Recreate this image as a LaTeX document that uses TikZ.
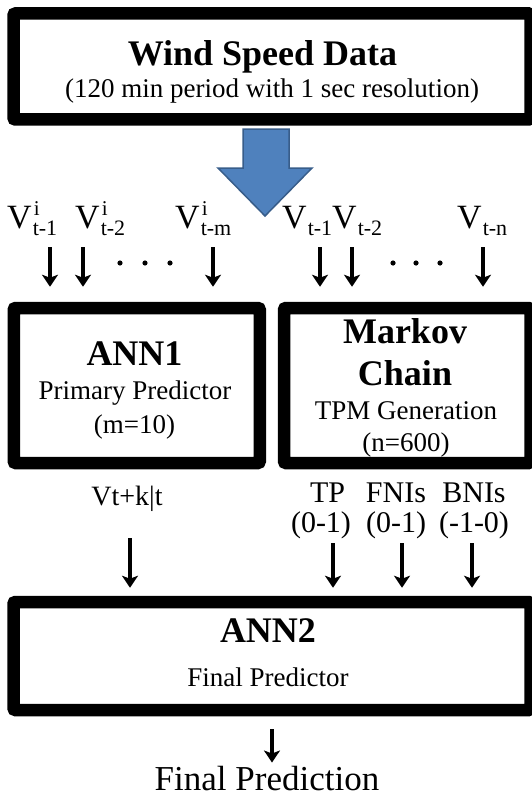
\documentclass[tikz,border=0pt]{standalone}
\usepackage{fontspec}
\setmainfont{Liberation Serif}
\usetikzlibrary{arrows.meta}

\definecolor{arrowblue}{HTML}{4F81BD}
\definecolor{arrowedge}{HTML}{385D8A}

\newcommand{\vlab}[2]{V\rlap{\raisebox{13pt}{\fontsize{21}{21}\selectfont\kern2pt#1}}\raisebox{-7pt}{\fontsize{22}{22}\selectfont\kern1pt#2}}

\tikzset{
        frame/.style={draw, line width=12.5pt, rounded corners=2pt, inner sep=0pt},
        head/.style={font=\fontsize{36}{40}\selectfont\bfseries, inner sep=0pt, anchor=base},
        body/.style={font=\fontsize{27}{30}\selectfont, inner sep=0pt, anchor=base},
        vtext/.style={font=\fontsize{34}{36}\selectfont, inner sep=0pt, anchor=base west},
        outtext/.style={font=\fontsize{30}{30}\selectfont, inner sep=0pt, anchor=base, align=center},
        arr/.style={line width=3.5pt, -{Stealth[length=12pt,width=16pt,inset=3pt]}},
}

\begin{document}
\begin{tikzpicture}[x=1pt, y=-1pt]
        \useasboundingbox (0, 0) rectangle (531, 797);
        % boxes
        \node[frame, minimum width=517pt, minimum height=106pt] (data) at (272, 66.5) {};
        \node[frame, minimum width=246pt, minimum height=155pt] (annA) at (136.75, 385.5) {};
        \node[frame, minimum width=246.5pt, minimum height=155pt] (markov) at (407.25, 385.5) {};
        \node[frame, minimum width=517pt, minimum height=108pt] (annB) at (272, 656) {};

        % box texts
        \node[head] (datatitle) at (262.5, 66) {Wind Speed Data};
        \node[body] (datasub) at (272, 97.5) {(120 min period with 1 sec resolution)};
        \node[head] (annAtitle) at (134.5, 365) {ANN1};
        \node[body] (annAsub) at (135, 399) {Primary Predictor};
        \node[body] (annAm) at (134.6, 433) {(m=10)};
        \node[head] (markovtitle) at (405, 343) {Markov};
        \node[head] (markovchain) at (405, 385) {Chain};
        \node[body] (markovsub) at (406, 419) {TPM Generation};
        \node[body] (markovn) at (406, 451) {(n=600)};
        \node[head] (annBtitle) at (268, 642) {ANN2};
        \node[body] (annBsub) at (268, 686) {Final Predictor};

        % big arrow out of the data box
        \filldraw[fill=arrowblue, draw=arrowedge, line width=1.5pt, line join=miter]
                (243, 129) -- (289, 129) -- (289, 168) -- (312, 168) -- (265, 216)
                -- (218, 168) -- (243, 168) -- cycle;

        % inputs
        \node[vtext] (vi1) at (7, 228) {\vlab{i}{t-1}};
        \node[vtext] (vi2) at (75, 228) {\vlab{i}{t-2}};
        \node[vtext] (vim) at (175, 228) {\vlab{i}{t-m}};
        \node[vtext] (v1) at (282, 228) {\vlab{}{t-1}};
        \node[vtext] (v2) at (332, 228) {\vlab{}{t-2}};
        \node[vtext] (vn) at (457, 228) {\vlab{}{t-n}};

        \foreach \name/\x in {i1/50, i2/83, im/213, m1/320, m2/352, mn/483}
                \coordinate (in\name) at (\x, 247);
        \foreach \name in {i1, i2, im}
                \draw[arr, shorten >=15pt] (in\name) -- (in\name |- annA.north);
        \foreach \name in {m1, m2, mn}
                \draw[arr, shorten >=15pt] (in\name) -- (in\name |- markov.north);
        \foreach \x in {120, 145, 170, 393, 416, 440}
                \fill (\x, 263) circle [radius=2.6pt];

        % outputs
        \node[body, font=\fontsize{28}{30}\selectfont] (vt) at (127, 505) {Vt+k|t};
        \node[outtext] (tp) at (321, 532) {\makebox[0pt]{\hspace{13pt}TP}\\(0-1)};
        \node[outtext] (fni) at (396, 532) {FNIs\\(0-1)};
        \node[outtext] (bni) at (474, 532) {BNIs\\(-1-0)};

        \coordinate (outvt) at (130, 538);
        \foreach \name/\x in {tp/333, fni/402, bni/472}
                \coordinate (out\name) at (\x, 543);
        \foreach \name in {vt, tp, fni, bni}
                \draw[arr, shorten >=8pt] (out\name) -- (out\name |- annB.north);

        % result
        \node[body, font=\fontsize{35}{40}\selectfont] (final) at (267, 790) {Final Prediction};
        \draw[arr, shorten <=13pt, shorten >=3pt] (annB.south) -- (annB.south |- final.north);
\end{tikzpicture}
\end{document}
